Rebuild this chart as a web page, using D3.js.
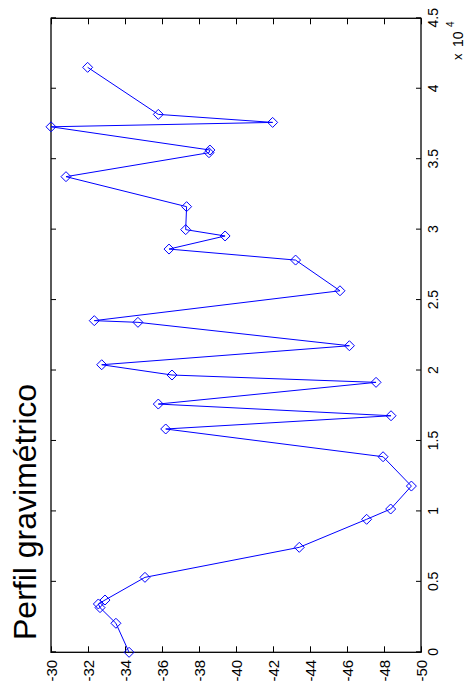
<!DOCTYPE html>
<html>
<head>
<meta charset="utf-8">
<script src="https://cdn.jsdelivr.net/npm/d3@7"></script>
<style>
  html, body { margin: 0; padding: 0; background: #ffffff; }
  svg { display: block; }
  text { font-family: "Liberation Sans", Arial, sans-serif; fill: #000; }
</style>
</head>
<body>
<script>
// Data: distance along profile and gravity anomaly
const distance = [0, 2060, 3170, 3430, 3710, 5320, 7450, 9440, 10170, 11800, 13880,
  15850, 16790, 17620, 19160, 19680, 20410, 21760, 23420, 23540, 25660, 27840,
  28620, 29550, 30000, 31630, 33760, 35460, 35650, 37300, 37610, 38180, 41520];
const gravity = [-34.22, -33.51, -32.65, -32.56, -32.92, -35.08, -43.42, -47.06, -48.36, -49.48, -47.95,
  -36.2, -48.38, -35.8, -47.57, -36.54, -32.74, -46.13, -34.70, -32.34, -45.62, -43.22,
  -36.38, -39.41, -37.28, -37.33, -30.81, -38.54, -38.59, -30.0, -41.98, -35.8, -31.98];
const distanceTicks = [0, 5000, 10000, 15000, 20000, 25000, 30000, 35000, 40000, 45000];
const distanceTickLabels = ["0", "0.5", "1", "1.5", "2", "2.5", "3", "3.5", "4", "4.5"];
const gravityTicks = [-50, -48, -46, -44, -42, -40, -38, -36, -34, -32, -30];
const gravityTickLabels = ["-50", "-48", "-46", "-44", "-42", "-40", "-38", "-36", "-34", "-32", "-30"];
const titleText = "Perfil gravimétrico";

(function () {
const W = 466, H = 693;
const svg = d3.select("body").append("svg").attr("width", W).attr("height", H);

// Chart drawn in an unrotated frame (width H, height W), then rotated -90deg.
const g = svg.append("g").attr("transform", `translate(0,${H}) rotate(-90)`);

const pL = 40.7, pR = 674.7, pT = 51, pB = 421;
const x = d3.scaleLinear().domain([0, 45000]).range([pL, pR]);
const y = d3.scaleLinear().domain([-50, -30]).range([pB, pT]);

// Bottom axis (distance)
const xb = g.append("g").attr("transform", `translate(0,${pB})`)
  .call(d3.axisBottom(x).tickValues(distanceTicks)
    .tickFormat((d, i) => distanceTickLabels[i]).tickSizeInner(-5).tickSizeOuter(0).tickPadding(0));
xb.select(".domain").remove();
xb.selectAll(".tick text").attr("y", 17).attr("dy", null).style("font-size", "14px");

// Top axis ticks (distance)
const xt = g.append("g").attr("transform", `translate(0,${pT})`)
  .call(d3.axisTop(x).tickValues(distanceTicks).tickFormat("").tickSizeInner(-5).tickSizeOuter(0));
xt.select(".domain").remove();

// Left axis (gravity)
const yl = g.append("g").attr("transform", `translate(${pL},0)`)
  .call(d3.axisLeft(y).tickValues(gravityTicks)
    .tickFormat((d, i) => gravityTickLabels[i]).tickSizeInner(-6).tickSizeOuter(0).tickPadding(0));
yl.select(".domain").remove();
yl.selectAll(".tick text").attr("x", -7.5).attr("dy", "0.36em").style("font-size", "15px");

// Right axis ticks (gravity)
const yr = g.append("g").attr("transform", `translate(${pR},0)`)
  .call(d3.axisRight(y).tickValues(gravityTicks).tickFormat("").tickSizeInner(-6).tickSizeOuter(0));
yr.select(".domain").remove();

g.selectAll(".tick line").attr("stroke", "#000").attr("stroke-width", 1);

// Box
g.append("rect").attr("x", pL).attr("y", pT).attr("width", pR - pL).attr("height", pB - pT)
  .attr("fill", "none").attr("stroke", "#000").attr("stroke-width", 1.3);

// Exponent label
const ex = g.append("text").attr("y", 462).style("font-size", "13px");
ex.append("tspan").attr("x", 633).text("x");
ex.append("tspan").attr("x", 646).attr("y", 463).style("font-size", "14px").text("10");
ex.append("tspan").attr("x", 666).attr("y", 454).style("font-size", "10px").text("4");

// Data line
const pts = distance.map((d, i) => [d, gravity[i]]);
g.append("path").datum(pts)
  .attr("fill", "none").attr("stroke", "#0000ff").attr("stroke-width", 1)
  .attr("d", d3.line().x(d => x(d[0])).y(d => y(d[1])));

// Diamond markers
const r = 5;
g.selectAll(".mk").data(pts).enter().append("path").attr("class", "mk")
  .attr("fill", "none").attr("stroke", "#0000ff").attr("stroke-width", 1)
  .attr("d", d => {
    const cx = x(d[0]), cy = y(d[1]);
    return `M${cx},${cy - r}L${cx + r},${cy}L${cx},${cy + r}L${cx - r},${cy}Z`;
  });

// Title
g.append("text").attr("x", 53).attr("y", 36).style("font-size", "32px").text(titleText);
})();
</script>
</body>
</html>
